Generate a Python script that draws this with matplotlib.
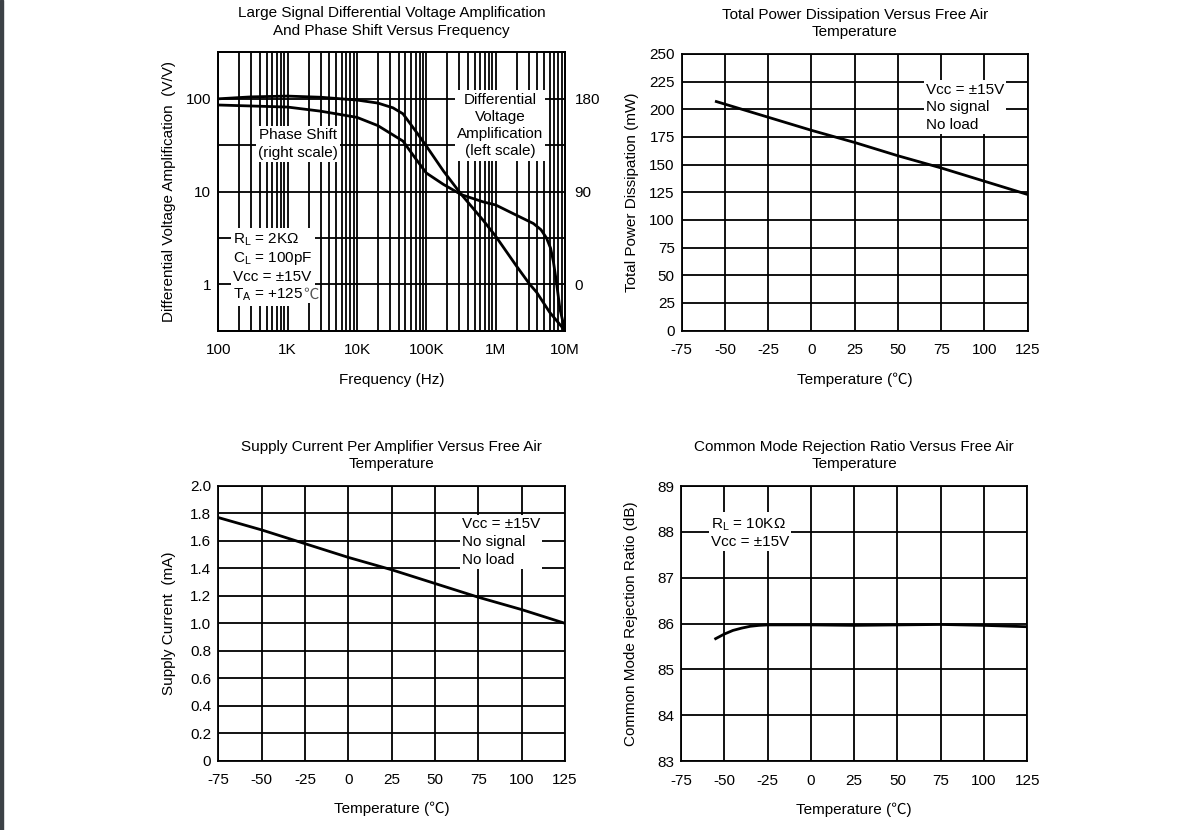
import numpy as np
import matplotlib
matplotlib.use("Agg")
from matplotlib import pyplot as plt
from matplotlib.patches import Rectangle

plt.rcParams['font.family'] = ['Liberation Sans', 'Noto Sans CJK SC', 'DejaVu Sans']
plt.rcParams['mathtext.fontset'] = 'custom'
plt.rcParams['mathtext.rm'] = 'Liberation Sans'
plt.rcParams['axes.unicode_minus'] = False
plt.rcParams['font.size'] = 11

# gain / phase vs frequency
freq_gain = [100, 300, 1e3, 3e3, 1e4, 2e4, 3.3e4, 4.6e4, 7e4, 1e5, 1.76e5, 3.2e5,
             6.6e5, 1e6, 2e6, 3.1e6, 3.9e6, 6e6, 1e7]
gain = [100, 105, 107, 104, 97, 90, 80, 69, 45, 31, 16.7, 9.3,
        4.9, 3.3, 1.57, 1.0, 0.82, 0.5, 0.316]
freq_phase = [100, 1e3, 3e3, 1e4, 2e4, 3.3e4, 4.6e4, 7e4, 1e5, 1.76e5, 3.2e5, 6.6e5,
              1e6, 2e6, 3.5e6, 4.5e6, 5.4e6, 6.2e6, 6.8e6, 7.6e6, 8.45e6, 1e7]
phase = [174, 172, 168, 162, 154, 145, 139, 122, 108, 97, 87, 80,
         77, 67, 59, 53, 45, 35, 22, 0, -24, -45]
freq_ticks = [100, 1e3, 1e4, 1e5, 1e6, 1e7]
freq_labels = ['100', '1K', '10K', '100K', '1M', '10M']

# power dissipation
temp_pd = [-55, 0, 25, 50, 75, 100, 125]
power = [207, 181, 170, 158, 147, 135, 123]

# supply current
temp_icc = [-75, -50, -25, 0, 25, 50, 75, 100, 125]
icc = [1.77, 1.68, 1.58, 1.48, 1.39, 1.29, 1.19, 1.10, 1.00]

# CMRR
temp_cmrr = [-55, -50, -45, -40, -35, -30, -25, 0, 25, 50, 75, 100, 125]
cmrr = [85.67, 85.77, 85.85, 85.9, 85.94, 85.96, 85.97, 85.97, 85.96, 85.97, 85.98, 85.96, 85.93]

temp_ticks = [-75, -50, -25, 0, 25, 50, 75, 100, 125]

fig = plt.figure(figsize=(11.91, 8.30), dpi=100)
fig.patches.append(Rectangle((0, 0), 2.5 / 1191, 1, transform=fig.transFigure,
                             color='#3c4146', zorder=10))

gkw = dict(color='black', linewidth=1.3)
box = dict(facecolor='white', edgecolor='none', pad=1.5)


def style(ax):
    ax.set_axisbelow(True)
    for s in ax.spines.values():
        s.set_linewidth(1.3)
    ax.tick_params(which='both', length=0, pad=5)
    ax.tick_params(axis='x', pad=9)


def title(ax, t):
    ax.text(0.5, 1.11, t, transform=ax.transAxes, ha='center', va='center',
            multialignment='center', linespacing=1.3)


# ---- top left: gain & phase
ax1 = fig.add_axes([0.1833, 0.6016, 0.2911, 0.3352])
style(ax1)
ax1.set_xscale('log')
ax1.set_yscale('log')
ax1.set_xlim(100, 1e7)
ax1.set_ylim(10 ** -0.5, 10 ** 2.5)
ax1.set_xticks(freq_ticks)
ax1.set_xticklabels(freq_labels)
ax1.xaxis.set_minor_locator(matplotlib.ticker.LogLocator(base=10, subs=range(2, 10)))
ax1.xaxis.set_minor_formatter(matplotlib.ticker.NullFormatter())
ax1.set_yticks([1, 10, 100])
ax1.set_yticklabels(['1', '10', '100'])
ax1.set_yticks([10 ** -0.5, 10 ** 0.5, 10 ** 1.5], minor=True)
ax1.yaxis.set_minor_formatter(matplotlib.ticker.NullFormatter())
ax1.grid(True, which='both', **gkw)
ax1.plot(freq_gain, gain, color='black', linewidth=2.0, zorder=4)
ax1b = ax1.twinx()
ax1b.set_ylim(-45, 225)
ax1b.set_yticks([0, 90, 180])
ax1b.tick_params(length=0, pad=7)
for s in ax1b.spines.values():
    s.set_linewidth(1.3)
ax1b.plot(freq_phase, phase, color='black', linewidth=2.0)
ax1.text(0.23, 0.671, 'Phase Shift\n(right scale)', transform=ax1.transAxes,
         ha='center', va='center', multialignment='center', linespacing=1.3, bbox=box)
ax1.text(0.812, 0.7376, 'Differential\nVoltage\nAmplification\n(left scale)',
         transform=ax1.transAxes, ha='center', va='center', multialignment='center',
         linespacing=1.3, bbox=box)
cond = ax1.text(0.042, 0.357, 'R$_\\mathrm{L}$ = 2KΩ\nC$_\\mathrm{L}$ = 100pF\nVcc = ±15V',
                transform=ax1.transAxes, ha='left', va='top', bbox=box)
# last line on its own, the degree-Celsius sign (not in the mathtext font) right after it
ta = ax1.annotate('T$_\\mathrm{A}$ = +125', xy=(0, 0), xycoords=cond, xytext=(0, -10.9),
                  textcoords='offset points', ha='left', va='baseline', bbox=box)
ax1.annotate('℃', xy=(1, 0), xycoords=(ta, cond), xytext=(0.3, -10.9),
             textcoords='offset points', ha='left', va='baseline', color='#555555',
             bbox=dict(facecolor='white', edgecolor='none', pad=1.0))
ax1.set_xlabel('Frequency (Hz)')
ax1.xaxis.set_label_coords(0.5, -0.152)
ax1.set_ylabel('Differential Voltage Amplification  (V/V)')
ax1.yaxis.set_label_coords(-0.122, 0.5)
title(ax1, 'Large Signal Differential Voltage Amplification\nAnd Phase Shift Versus Frequency')

# ---- top right: power dissipation
ax2 = fig.add_axes([0.5724, 0.6016, 0.2905, 0.3334])
style(ax2)
ax2.set_xlim(-75, 125)
ax2.set_ylim(0, 250)
ax2.set_xticks(temp_ticks)
ax2.set_yticks(range(0, 251, 25))
ax2.grid(True, **gkw)
ax2.plot(temp_pd, power, color='black', linewidth=2.0)
ax2.text(0.706, 0.807, 'Vcc = ±15V\nNo signal\nNo load', transform=ax2.transAxes,
         ha='left', va='center', linespacing=1.35, bbox=box)
ax2.set_xlabel('Temperature (℃)')
ax2.xaxis.set_label_coords(0.5, -0.153)
ax2.set_ylabel('Total Power Dissipation (mW)')
ax2.yaxis.set_label_coords(-0.124, 0.5)
title(ax2, 'Total Power Dissipation Versus Free Air\nTemperature')

# ---- bottom left: supply current
ax3 = fig.add_axes([0.1833, 0.0835, 0.2911, 0.331])
style(ax3)
ax3.set_xlim(-75, 125)
ax3.set_ylim(0, 2.0)
ax3.set_xticks(temp_ticks)
ax3.set_yticks(np.arange(0, 2.01, 0.2))
ax3.set_yticklabels(['0'] + ['%.1f' % v for v in np.arange(0.2, 2.01, 0.2)])
ax3.grid(True, **gkw)
ax3.plot(temp_icc, icc, color='black', linewidth=2.0)
ax3.text(0.703, 0.796, 'Vcc = ±15V\nNo signal\nNo load', transform=ax3.transAxes,
         ha='left', va='center', linespacing=1.35, bbox=box)
ax3.set_xlabel('Temperature (℃)')
ax3.xaxis.set_label_coords(0.5, -0.15)
ax3.set_ylabel('Supply Current  (mA)')
ax3.yaxis.set_label_coords(-0.122, 0.5)
title(ax3, 'Supply Current Per Amplifier Versus Free Air\nTemperature')

# ---- bottom right: CMRR
ax4 = fig.add_axes([0.5718, 0.0831, 0.2908, 0.3313])
style(ax4)
ax4.set_xlim(-75, 125)
ax4.set_ylim(83, 89)
ax4.set_xticks(temp_ticks)
ax4.set_yticks(range(83, 90))
ax4.grid(True, **gkw)
ax4.plot(temp_cmrr, cmrr, color='black', linewidth=2.0)
ax4.text(0.0866, 0.831, 'R$_\\mathrm{L}$ = 10KΩ\nVcc = ±15V', transform=ax4.transAxes,
         ha='left', va='center', bbox=box)
ax4.set_xlabel('Temperature (℃)')
ax4.xaxis.set_label_coords(0.5, -0.15)
ax4.set_ylabel('Common Mode Rejection Ratio (dB)')
ax4.yaxis.set_label_coords(-0.124, 0.5)
title(ax4, 'Common Mode Rejection Ratio Versus Free Air\nTemperature')

fig.savefig('out.png', dpi=100)
